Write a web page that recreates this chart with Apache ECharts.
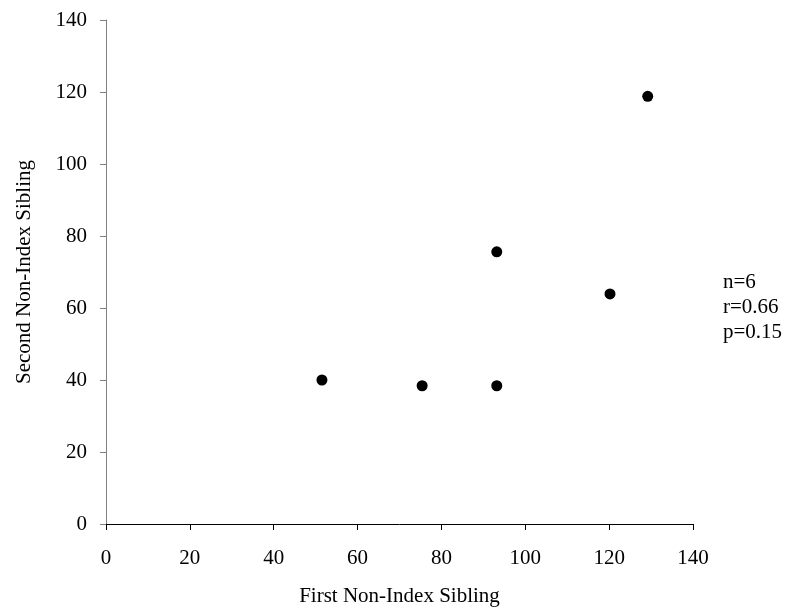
<!DOCTYPE html>
<html><head><meta charset="utf-8">
<script src="https://cdn.jsdelivr.net/npm/echarts@6/dist/echarts.min.js"></script>
<style>html,body{margin:0;padding:0;background:#fff}#c{width:795px;height:612px}</style>
</head><body><div id="c"></div>
<script>
const xValues = [51.5, 75.4, 93.2, 93.2, 120.2, 129.2];
const yValues = [40.0, 38.4, 38.4, 75.6, 63.9, 118.8];
const statLines = ['n=6', 'r=0.66', 'p=0.15'];
const xTitle = 'First Non-Index Sibling';
const yTitle = 'Second Non-Index Sibling';

const points = xValues.map((x, i) => [x, yValues[i]]);
const font = '"Liberation Serif", "Times New Roman", serif';
const fs = 21;
const chart = echarts.init(document.getElementById('c'), null, {renderer: 'canvas'});
chart.setOption({
  animation: false,
  backgroundColor: '#fff',
  grid: {left: 106, right: 102, top: 20, bottom: 85, containLabel: false},
  xAxis: {
    type: 'value', min: 0, max: 140, interval: 20,
    name: xTitle, nameLocation: 'middle', nameGap: 62,
    nameTextStyle: {fontFamily: font, fontSize: fs, color: '#000'},
    axisLine: {onZero: false, lineStyle: {color: '#000', width: 1}},
    axisTick: {show: true, inside: false, length: 6, lineStyle: {color: '#000', width: 1}},
    axisLabel: {fontFamily: font, fontSize: fs, color: '#000', margin: 24},
    splitLine: {show: false}
  },
  yAxis: {
    type: 'value', min: 0, max: 140, interval: 20,
    name: yTitle, nameLocation: 'middle', nameGap: 71, nameRotate: 90,
    nameTextStyle: {fontFamily: font, fontSize: fs, color: '#000'},
    axisLine: {onZero: false, lineStyle: {color: '#808080', width: 1}},
    axisTick: {show: true, inside: false, length: 6, lineStyle: {color: '#808080', width: 1}},
    axisLabel: {fontFamily: font, fontSize: fs, color: '#000', margin: 19},
    splitLine: {show: false}
  },
  graphic: [{
    type: 'text', left: 723, top: 270,
    style: {text: statLines.join('\n'), fontFamily: font, fontSize: fs, lineHeight: 25, fill: '#000'}
  }],
  series: [{
    type: 'scatter', data: points, symbol: 'circle', symbolSize: 11,
    itemStyle: {color: '#000', opacity: 1}
  }]
});
</script></body></html>
